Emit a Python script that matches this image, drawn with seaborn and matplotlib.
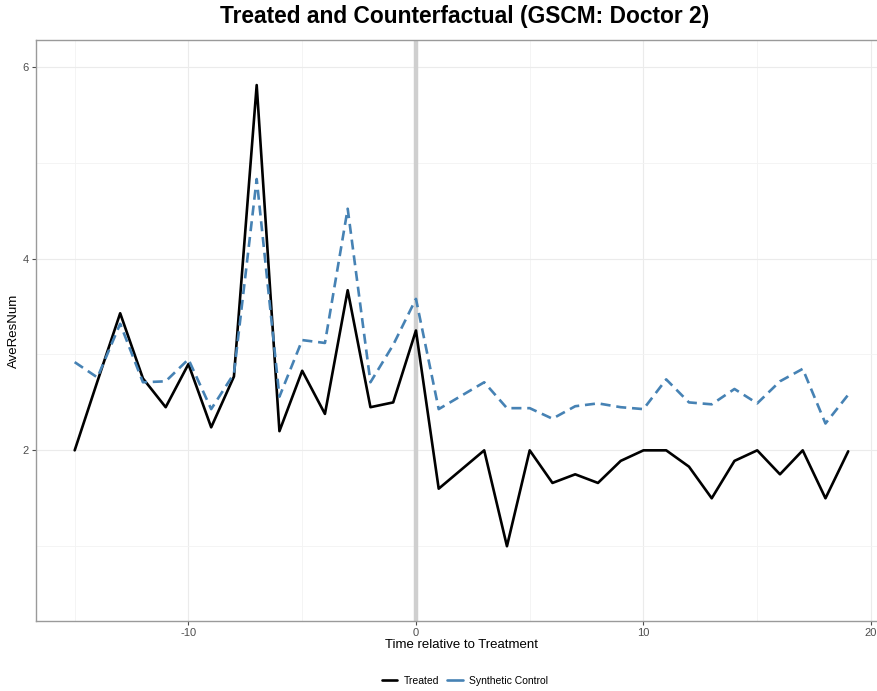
import numpy as np
import pandas as pd
import matplotlib
matplotlib.use("Agg")
import matplotlib.pyplot as plt
import seaborn as sns
from matplotlib.lines import Line2D

time = list(range(-15, 20))
treated = [2.00, 2.72, 3.43, 2.75, 2.45, 2.90, 2.24, 2.77, 5.81, 2.20, 2.83, 2.38, 3.67, 2.45, 2.50, 3.25,
           1.60, 1.80, 2.00, 1.00, 2.00, 1.66, 1.75, 1.66, 1.89, 2.00, 2.00, 1.83, 1.50, 1.89, 2.00, 1.75, 2.00, 1.50, 1.99]
synthetic = [2.92, 2.76, 3.32, 2.71, 2.72, 2.95, 2.43, 2.80, 4.83, 2.56, 3.15, 3.12, 4.52, 2.71, 3.10, 3.58,
             2.43, 2.57, 2.71, 2.44, 2.44, 2.33, 2.46, 2.49, 2.45, 2.43, 2.74, 2.50, 2.48, 2.64, 2.49, 2.72, 2.85, 2.28, 2.58]
series_names = ["Treated", "Synthetic Control"]
treatment_time = 0

df = pd.DataFrame({
    "time": time * 2,
    "value": treated + synthetic,
    "series": [series_names[0]] * len(time) + [series_names[1]] * len(time),
})

sns.set_style("white")
plt.rcParams['font.family'] = ['Liberation Sans', 'DejaVu Sans']
plt.rcParams['axes.unicode_minus'] = False

W, H = 877, 691
fig = plt.figure(figsize=(W / 100, H / 100), dpi=100)
left_px, right_px, top_px, bottom_px = 36, 886.9, 40, 621
ax = fig.add_axes([left_px / W, 1 - bottom_px / H, (right_px - left_px) / W, (bottom_px - top_px) / H])

ax.axvline(treatment_time, color="#cfcfcf", lw=3.2, zorder=1)

palette = {series_names[0]: "black", series_names[1]: "#4682B4"}
dashes = {series_names[0]: "", series_names[1]: (3.8, 2.2)}
sns.lineplot(data=df, x="time", y="value", hue="series", style="series",
             palette=palette, dashes=dashes, lw=1.9, ax=ax, legend=False, zorder=3)

ax.set_xlim(-16.7, 20.7)
ax.set_ylim(0.22, 6.28)
ax.set_xticks([-10, 0, 10, 20])
ax.set_xticks([-15, -5, 5, 15], minor=True)
ax.set_yticks([2, 4, 6])
ax.set_yticks([1, 3, 5], minor=True)
ax.grid(True, which="major", color="#ebebeb", lw=0.8)
ax.grid(True, which="minor", color="#f3f3f3", lw=0.6)
ax.set_axisbelow(True)
for s in ["left", "bottom", "top"]:
    ax.spines[s].set_color("#9a9a9a")
    ax.spines[s].set_linewidth(1.0)
ax.spines["right"].set_visible(False)
ax.tick_params(axis="both", which="major", length=3, width=0.8, color="#4d4d4d",
               labelcolor="#4d4d4d", labelsize=8, pad=2, bottom=True, left=True)
ax.tick_params(axis="both", which="minor", length=0)

ax.set_xlabel("Time relative to Treatment", fontsize=9.5, color="black", labelpad=1)
ax.set_ylabel("AveResNum", fontsize=9.5, color="black", labelpad=2)

fig.text(465 / W, 1 - 16 / H, "Treated and Counterfactual (GSCM: Doctor 2)",
         ha="center", va="center", fontsize=16.4, fontweight="bold", color="black")

handles = [Line2D([], [], color="black", lw=1.9),
           Line2D([], [], color="#4682B4", lw=1.9)]
fig.legend(handles, series_names, loc="center", bbox_to_anchor=(465 / W, 1 - 681 / H),
           ncol=2, frameon=False, fontsize=7.5, handlelength=1.5, handletextpad=0.6,
           columnspacing=0.8, labelcolor="black")

fig.savefig("out.png", dpi=100)
